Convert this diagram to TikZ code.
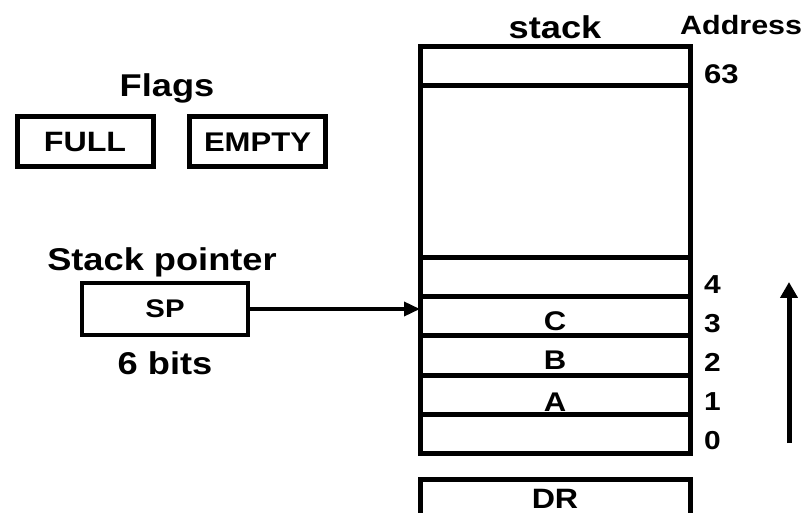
\documentclass[tikz,border=0pt]{standalone}
\usepackage{fontspec}
\setmainfont[FakeStretch=1.15]{Liberation Sans}
\usetikzlibrary{arrows.meta, positioning}

\begin{document}
\begin{tikzpicture}[x=1pt, y=-1pt,
            cell/.style={draw, line width=5pt, outer sep=0pt, inner sep=0pt, minimum width=270pt, minimum height=39pt,
                font=\fontsize{28}{30}\selectfont\bfseries},
            cell text/.style={font=\fontsize{27}{30}\selectfont\bfseries, inner sep=0pt},
            flagbox/.style={draw, line width=5pt, minimum width=136pt, minimum height=50pt,
                font=\fontsize{28}{32}\selectfont\bfseries},
            title label/.style={font=\fontsize{31.5}{36}\selectfont\bfseries, inner sep=0pt},
            addr label/.style={font=\fontsize{26}{28}\selectfont\bfseries, inner sep=0pt, anchor=west},
            link/.style={line width=3.5pt, -{Triangle[length=16pt, width=14pt]}}]

            \path[use as bounding box, clip] (0,0) rectangle (812,513);

            % The stack, address 63 at the top down to 0
            \node[cell] (r63) at (555,66.5) {};
            \node[cell, below=0pt of r63, minimum height=172pt] (rmid) {};
            \node[cell, below=0pt of rmid] (r4) {};
            \node[cell, below=0pt of r4, label={[cell text, yshift=-5pt]center:C}] (r3) {};
            \node[cell, below=0pt of r3, label={[cell text, yshift=-5pt]center:B}] (r2) {};
            \node[cell, below=0pt of r2, label={[cell text, yshift=-8pt]center:A}] (r1) {};
            \node[cell, below=0pt of r1] (r0) {};
            \node[title label, above=8pt of r63] (stacktitle) {stack};

            % Addresses
            \node[addr label, font=\fontsize{26.5}{28}\selectfont\bfseries] (addrtitle) at (680,25) {Address};
            \node[addr label, font=\fontsize{27}{28}\selectfont\bfseries, right=14pt of r63.east, yshift=-8pt] {63};
            \foreach \n in {4,3,2,1,0}
                \node[addr label, right=14pt of r\n.east, yshift=-7pt] {\n};

            % Data register
            \node[cell, below=26pt of r0, minimum height=40pt] (dr) {DR};

            % Flags
            \node[title label] (flags) at (167,88) {Flags};
            \node[flagbox] (full) at (85,142) {FULL};
            \node[flagbox, font=\fontsize{27}{32}\selectfont\bfseries] (empty) at (257.5,142) {EMPTY};

            % Stack pointer
            \node[title label] (sptitle) at (162,262) {Stack pointer};
            \node[flagbox, line width=4pt, minimum width=166pt, minimum height=52pt,
                font=\fontsize{25.5}{28}\selectfont\bfseries] (sp) at (165,309) {SP};
            \node[title label, below=14pt of sp] (spbits) {6 bits};
            \draw[link] (sp.east) -- (sp.east -| r3.west);

            % Direction of growth
            \coordinate (growlow) at (789,443);
            \coordinate (growhigh) at (789,282);
            \draw[link, line width=5pt, -{Triangle[length=16pt, width=17pt]}] (growlow) -- (growhigh);
        \end{tikzpicture}
\end{document}
